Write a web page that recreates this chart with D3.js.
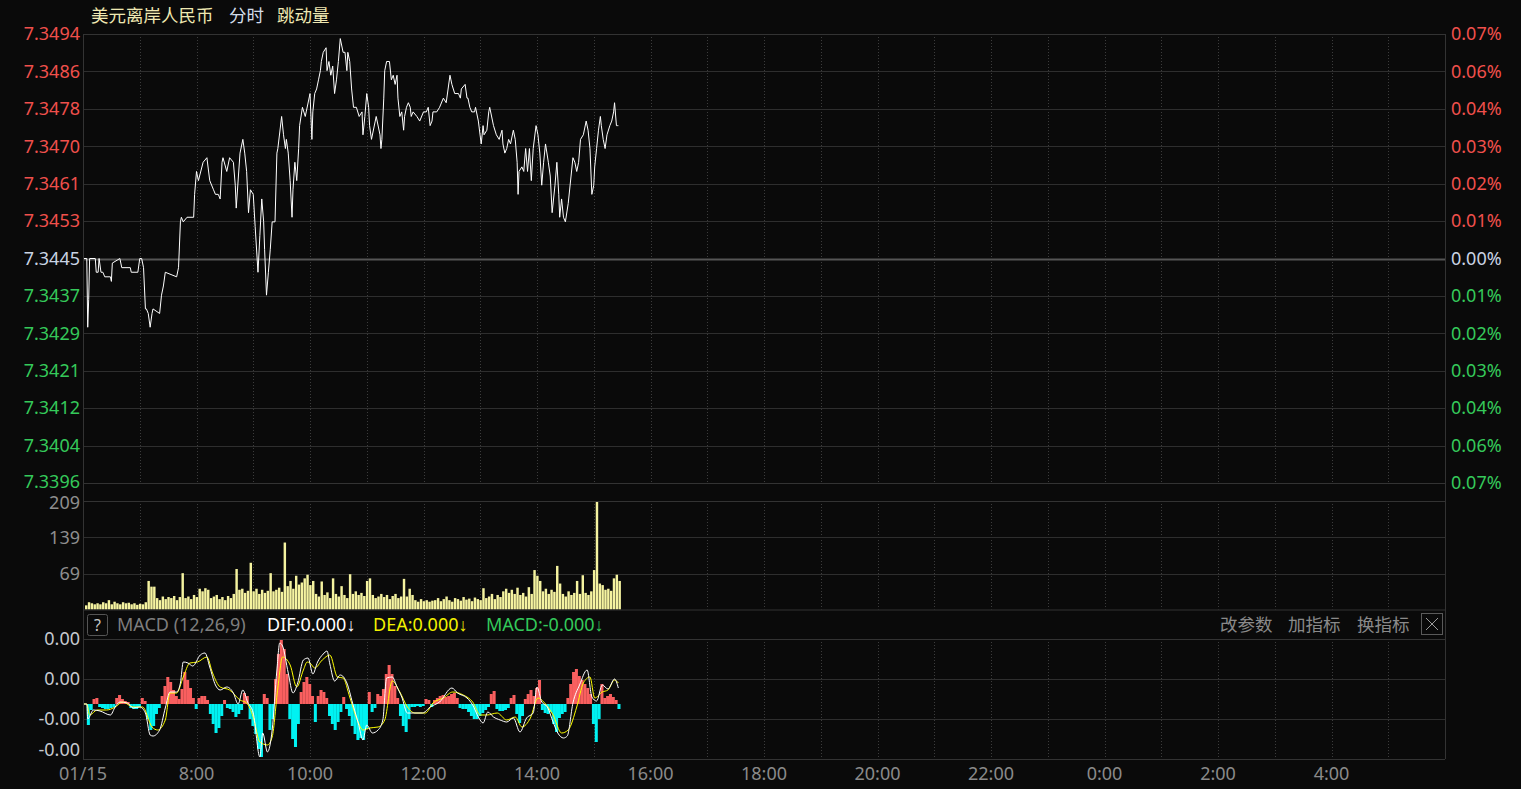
<!DOCTYPE html>
<html><head><meta charset="utf-8">
<script src="https://cdn.jsdelivr.net/npm/d3@7"></script>
<style>
html,body{margin:0;padding:0;background:#0a0a0a;overflow:hidden}
svg{display:block}
</style></head><body><svg id="c" width="1521" height="789"></svg>
<script>
// ---------------- DATA ----------------
const titleParts = ["美元离岸人民币", "分时", "跳动量"];
const sessionStart = [2025, 0, 15, 6, 0];       // 01/15 06:00
const sessionEnd   = [2025, 0, 16, 6, 0];
const basePrice = 7.3445;
const priceTickLabels = ["7.3494","7.3486","7.3478","7.3470","7.3461","7.3453","7.3445","7.3437","7.3429","7.3421","7.3412","7.3404","7.3396"];
const pctTickLabels   = ["0.07%","0.06%","0.04%","0.03%","0.02%","0.01%","0.00%","0.01%","0.02%","0.03%","0.04%","0.06%","0.07%"];
const timeTickLabels  = ["01/15","8:00","10:00","12:00","14:00","16:00","18:00","20:00","22:00","0:00","2:00","4:00"];
const volTickValues   = [209, 139, 69];
const macdTickValues  = [65, 25, -15, -55];            // ×1e-5
const macdTickLabels  = ["0.00", "0.00", "-0.00", "-0.00"];
const macdHeader = ["MACD (12,26,9)", "DIF:0.000↓", "DEA:0.000↓", "MACD:-0.000↓"];
const macdButtons = ["改参数", "加指标", "换指标"];

// price: [minutes after 06:00, price]
const priceSeries = [[0,7.3445],[4,7.3445],[5,7.3430],[6,7.3436],[7,7.3445],[13,7.3445],[14,7.3442],[16,7.3442],[17,7.3445],[19,7.3442],[21,7.3442],[23,7.3441],[29,7.3441],[30,7.3440],[31,7.3444],[39,7.3445],[41,7.3443],[50,7.3443],[51,7.3442],[58,7.3442],[60,7.3445],[62,7.3445],[64,7.3443],[66,7.3434],[67,7.3434],[69,7.3433],[71,7.3430],[73,7.3433],[74,7.3434],[81,7.3433],[83,7.3437],[85,7.3439],[87,7.3442],[99,7.3441],[101,7.3443],[103,7.3453],[104,7.3454],[106,7.3453],[110,7.3454],[117,7.3454],[118,7.3459],[120,7.3464],[122,7.3462],[127,7.3466],[131,7.3467],[134,7.3462],[138,7.3460],[140,7.3459],[143,7.3459],[145,7.3458],[147,7.3466],[148,7.3467],[152,7.3464],[155,7.3467],[159,7.3466],[161,7.3461],[162,7.3456],[166,7.3468],[169,7.3471],[171,7.3468],[173,7.3464],[175,7.3455],[177,7.3460],[180,7.3459],[182,7.3452],[185,7.3442],[187,7.3450],[189,7.3458],[191,7.3453],[192,7.3447],[194,7.3437],[196,7.3442],[198,7.3447],[200,7.3453],[203,7.3453],[205,7.3468],[206,7.3469],[210,7.3476],[212,7.3472],[214,7.3469],[215,7.3471],[217,7.3468],[219,7.3462],[221,7.3454],[222,7.3460],[224,7.3466],[226,7.3462],[228,7.3469],[229,7.3474],[232,7.3478],[235,7.3476],[236,7.3477],[240,7.3481],[242,7.3471],[243,7.3477],[245,7.3481],[247,7.3482],[249,7.3484],[251,7.3486],[252,7.3488],[254,7.3490],[257,7.3491],[258,7.3486],[260,7.3488],[262,7.3485],[264,7.3487],[266,7.3481],[268,7.3484],[270,7.3488],[272,7.3493],[275,7.3490],[277,7.3490],[279,7.3486],[280,7.3490],[282,7.3488],[284,7.3482],[286,7.3478],[289,7.3478],[292,7.3476],[295,7.3477],[296,7.3472],[298,7.3476],[300,7.3481],[302,7.3478],[303,7.3474],[305,7.3471],[309,7.3475],[310,7.3476],[314,7.3472],[315,7.3469],[316,7.3471],[318,7.3480],[319,7.3486],[321,7.3488],[324,7.3488],[326,7.3484],[328,7.3485],[330,7.3483],[332,7.3485],[333,7.3480],[335,7.3476],[337,7.3477],[339,7.3473],[340,7.3476],[342,7.3478],[344,7.3479],[346,7.3478],[347,7.3476],[349,7.3477],[353,7.3476],[356,7.3475],[360,7.3477],[363,7.3477],[365,7.3478],[367,7.3474],[369,7.3475],[370,7.3477],[374,7.3477],[377,7.3478],[381,7.3480],[384,7.3479],[388,7.3485],[390,7.3483],[393,7.3481],[397,7.3481],[399,7.3480],[400,7.3482],[404,7.3483],[406,7.3480],[407,7.3480],[409,7.3478],[411,7.3477],[414,7.3477],[415,7.3478],[418,7.3475],[421,7.3470],[423,7.3474],[424,7.3472],[427,7.3473],[429,7.3477],[430,7.3478],[434,7.3474],[437,7.3472],[440,7.3471],[443,7.3473],[444,7.3470],[446,7.3468],[448,7.3469],[450,7.3471],[452,7.3470],[455,7.3473],[457,7.3471],[459,7.3466],[460,7.3459],[461,7.3464],[464,7.3465],[466,7.3464],[468,7.3469],[470,7.3464],[472,7.3469],[474,7.3462],[476,7.3469],[479,7.3474],[481,7.3472],[483,7.3468],[485,7.3461],[487,7.3466],[489,7.3470],[492,7.3466],[494,7.3463],[496,7.3455],[499,7.3461],[501,7.3466],[503,7.3459],[504,7.3454],[506,7.3458],[508,7.3454],[510,7.3453],[513,7.3457],[516,7.3463],[518,7.3467],[520,7.3466],[522,7.3464],[524,7.3466],[526,7.3471],[529,7.3472],[532,7.3475],[534,7.3473],[536,7.3469],[538,7.3459],[540,7.3461],[541,7.3465],[543,7.3469],[545,7.3473],[547,7.3476],[548,7.3474],[550,7.3471],[552,7.3469],[554,7.3472],[557,7.3474],[559,7.3475],[561,7.3477],[562,7.3479],[564,7.3474],[565,7.3474],[566,7.3474]];

// tick volume per 3-minute bin, starting 06:00
const volBinMinutes = 3;
const volumes = [8,14,12,10,12,10,14,12,18,10,15,12,10,14,12,13,10,12,9,11,
  10,14,55,44,44,22,18,25,20,24,22,26,18,24,70,22,25,20,28,24,
  40,35,41,38,22,25,28,20,24,18,26,22,30,78,38,40,32,36,90,35,
  40,30,38,32,36,70,35,38,42,34,129,45,55,40,65,48,52,60,67,47,
  55,30,25,54,28,33,22,60,30,25,45,28,22,68,30,35,28,32,26,55,
  60,28,22,25,30,24,28,20,26,30,22,25,59,25,40,28,18,15,20,16,
  18,15,17,18,22,16,20,25,18,15,22,20,17,24,19,21,16,23,20,18,
  41,22,25,30,20,28,24,35,40,32,38,30,42,28,32,25,43,30,76,65,
  55,35,40,30,38,34,84,50,30,25,35,28,32,55,30,66,32,28,35,76,
  209,50,47,38,40,36,60,67,55];

// MACD histogram per 3-minute bin (×1e-5)
const macdHist = [0,-21,-6,5,6,-3,-4,-5,-5,-4,-3,6,9,5,3,2,-4,-5,-5,-3,
  6,3,-15,-26,-22,-10,-4,8,18,27,22,14,8,5,15,32,24,16,6,-5,
  6,8,8,4,-10,-20,-29,-24,-12,4,-4,-5,-8,-13,-10,-6,11,8,-15,-22,
  -30,-45,-53,10,6,-26,-15,25,50,64,55,30,-15,-35,-43,-20,12,22,27,20,
  8,-18,8,14,12,6,-12,-20,-26,-18,-8,7,-5,-12,-22,-30,-36,-34,-36,-25,
  12,-8,-4,10,8,15,30,39,30,18,6,-12,-22,-28,-15,-3,-3,-2,-3,-2,
  5,4,-3,4,6,8,9,7,8,10,11,6,-4,-5,-5,-8,-12,-15,-15,-12,
  -9,-6,-3,10,13,-5,-7,-7,-6,-4,6,9,-10,-19,-12,5,10,14,8,16,
  24,-6,-9,-10,-8,-20,-28,-14,-10,-8,6,20,32,35,28,24,20,16,10,-20,
  -38,-15,20,6,8,10,7,4,-5];

// DIF / DEA: [minutes after 06:00, value ×1e-5]
const difSeries = [[0,0],[4,0],[5,-15],[11,-6],[18,-7],[29,-11],[34,-3],[39,2],[47,1],[53,-4],[60,-3],[66,-9],[71,-31],[74,-32],[81,-26],[87,-4],[92,12],[99,12],[103,21],[106,42],[111,41],[116,38],[124,49],[129,51],[134,37],[140,19],[145,14],[152,17],[159,11],[164,0],[169,14],[174,2],[180,-9],[187,-53],[190,-29],[195,-48],[200,-26],[205,34],[208,61],[211,58],[217,31],[222,11],[227,21],[233,44],[238,46],[243,30],[248,42],[254,50],[258,53],[261,40],[266,23],[272,29],[279,21],[285,1],[291,-19],[296,-36],[300,-21],[306,-29],[312,-26],[317,-16],[321,26],[327,27],[332,17],[337,7],[343,-9],[349,-9],[359,-9],[367,-3],[377,2],[390,16],[396,11],[406,6],[412,-1],[418,-13],[423,-19],[428,-8],[434,-13],[441,-16],[448,-18],[455,-14],[462,-28],[469,-14],[476,-9],[480,17],[485,2],[491,-3],[497,-18],[502,-29],[508,-34],[512,-32],[518,1],[525,19],[533,34],[538,7],[543,3],[549,19],[555,15],[562,25],[566,16]];
const deaSeries = [[0,0],[4,0],[7,-11],[15,-6],[25,-6],[34,-3],[42,2],[53,-3],[63,-3],[73,-23],[79,-26],[87,-16],[92,11],[99,11],[106,27],[113,41],[121,42],[131,47],[137,31],[145,17],[155,14],[166,4],[173,1],[180,-13],[187,-38],[195,-41],[200,-33],[206,16],[211,47],[219,39],[226,17],[233,34],[237,42],[240,41],[245,36],[253,44],[261,49],[269,27],[275,26],[282,7],[290,-16],[296,-26],[303,-24],[312,-23],[319,-16],[327,23],[335,12],[343,-3],[351,-9],[362,-9],[370,1],[381,6],[391,12],[402,9],[412,2],[420,-11],[427,-11],[438,-9],[448,-16],[457,-13],[464,-23],[473,-14],[481,6],[489,0],[497,-11],[506,-29],[513,-26],[522,-3],[529,21],[536,27],[541,6],[549,12],[555,14],[562,24],[566,21]];

// ---------------- LAYOUT ----------------
const L = 83, R = 1445;
const mainTop = 34, mainBot = 483;
const volTop = 501, volBot = 609.5;
const hdrTop = 610, macdTop = 639, macdBot = 759;
const gridCol = "#2e2e2e", borderCol = "#333333", dotCol = "#3c3c3c";
const NUM_FONT = "'Noto Sans','Open Sans',sans-serif";
const CJK_FONT = "'Noto Sans CJK SC','Noto Sans',sans-serif";

const svg = d3.select("#c");
const t0 = new Date(...sessionStart), t1 = new Date(...sessionEnd);
const toDate = m => d3.timeMinute.offset(t0, m);
const x = d3.scaleTime().domain([t0, t1]).range([L, R]);
const pHi = +priceTickLabels[0], pLo = +priceTickLabels[priceTickLabels.length - 1];
const y = d3.scaleLinear().domain([pLo, pHi]).range([mainBot, mainTop]);
// price ticks are evenly spaced across the range; labels are their rounded values
const nT = priceTickLabels.length - 1;
const tickPos = (d, i) => y(pHi - (pHi - pLo) * i / nT);
const yv = d3.scaleLinear().domain([0, d3.max(volumes)]).range([volBot, volTop]);
const ym = d3.scaleLinear().domain([macdTickValues[3], macdTickValues[0]]).range([macdBot, macdTop]);

svg.append("rect").attr("width", 1521).attr("height", 789).attr("fill", "#0a0a0a");

// hourly dotted verticals
const hours = d3.timeHour.range(d3.timeHour.offset(t0, 1), t1);
[[mainTop, mainBot], [volTop, volBot], [macdTop, macdBot]].forEach(([a, b]) => {
  svg.append("g").selectAll("line").data(hours).join("line")
    .attr("x1", d => Math.round(x(d)) + 0.5).attr("x2", d => Math.round(x(d)) + 0.5)
    .attr("y1", a).attr("y2", b)
    .attr("stroke", dotCol).attr("stroke-dasharray", "1,2");
});

// main horizontal grid
svg.append("g").selectAll("line").data(priceTickLabels).join("line")
  .attr("x1", L).attr("x2", R)
  .attr("y1", (d, i) => Math.round(tickPos(d, i)) + 0.5).attr("y2", (d, i) => Math.round(tickPos(d, i)) + 0.5)
  .attr("stroke", d => +d === basePrice ? "#555" : gridCol)
  .attr("stroke-width", d => +d === basePrice ? 2 : 1);

// price labels
const lastI = priceTickLabels.length - 1;
svg.append("g").selectAll("text").data(priceTickLabels).join("text")
  .attr("x", 80).attr("y", (d, i) => tickPos(d, i) - (i === lastI ? 1.5 : 0)).attr("dy", "0.35em")
  .attr("text-anchor", "end").attr("font-family", NUM_FONT).attr("font-size", 18)
  .attr("fill", d => +d > basePrice ? "#f0504c" : (+d < basePrice ? "#35c95a" : "#c9d3e3"))
  .text(d => d);
svg.append("g").selectAll("text").data(pctTickLabels).join("text")
  .attr("x", 1451).attr("y", (d, i) => tickPos(d, i)).attr("dy", "0.35em")
  .attr("font-family", NUM_FONT).attr("font-size", 18)
  .attr("fill", (d, i) => i < 6 ? "#f0504c" : (i > 6 ? "#35c95a" : "#c9d3e3"))
  .text(d => d);

// price line
svg.append("path").datum(priceSeries)
  .attr("fill", "none").attr("stroke", "#ffffff").attr("stroke-width", 1)
  .attr("d", d3.line().x(d => x(toDate(d[0]))).y(d => y(d[1])));

// volume grid & labels
svg.append("g").selectAll("line").data(volTickValues).join("line")
  .attr("x1", L).attr("x2", R)
  .attr("y1", d => Math.round(yv(d)) + 0.5).attr("y2", d => Math.round(yv(d)) + 0.5)
  .attr("stroke", gridCol);
svg.append("g").selectAll("text").data(volTickValues).join("text")
  .attr("x", 80).attr("y", (d, i) => yv(d) + (i === 0 ? 2 : 0)).attr("dy", "0.35em")
  .attr("text-anchor", "end").attr("font-family", NUM_FONT).attr("font-size", 18)
  .attr("fill", "#8e8e8e").text(d => d);
const binW = x(toDate(volBinMinutes)) - x(t0);
svg.append("g").selectAll("rect").data(volumes).join("rect")
  .attr("x", (d, i) => x(toDate(i * volBinMinutes)) + 2)
  .attr("width", binW - 0.4)
  .attr("y", d => yv(d)).attr("height", d => volBot - yv(d))
  .attr("fill", "#f5f3a0");

// MACD grid & labels
svg.append("g").selectAll("line").data(macdTickValues).join("line")
  .attr("x1", L).attr("x2", R)
  .attr("y1", d => Math.round(ym(d)) + 0.5).attr("y2", d => Math.round(ym(d)) + 0.5)
  .attr("stroke", gridCol);
svg.append("g").selectAll("text").data(macdTickValues).join("text")
  .attr("x", 80).attr("y", d => Math.min(ym(d), macdBot - 9)).attr("dy", "0.35em")
  .attr("text-anchor", "end").attr("font-family", NUM_FONT).attr("font-size", 18)
  .attr("fill", "#c5c9cf").text((d, i) => macdTickLabels[i]);

svg.append("g").selectAll("rect").data(macdHist).join("rect")
  .attr("x", (d, i) => x(toDate(i * volBinMinutes)) + 1)
  .attr("width", binW + 0.2)
  .attr("y", d => d >= 0 ? ym(d) : ym(0))
  .attr("height", d => Math.abs(ym(d) - ym(0)))
  .attr("fill", d => d >= 0 ? "#f95f5f" : "#00f2f2");

const mline = d3.line().x(d => x(toDate(d[0]))).y(d => ym(d[1])).curve(d3.curveMonotoneX);
svg.append("path").datum(deaSeries).attr("fill", "none").attr("stroke", "#ffff00").attr("stroke-width", 1).attr("d", mline);
svg.append("path").datum(difSeries).attr("fill", "none").attr("stroke", "#ffffff").attr("stroke-width", 1).attr("d", mline);

// panel borders
const border = (x1, y1, x2, y2) => svg.append("line").attr("x1", x1).attr("y1", y1).attr("x2", x2).attr("y2", y2).attr("stroke", borderCol);
border(L + 0.5, mainTop, L + 0.5, macdBot);
border(R + 0.5, mainTop, R + 0.5, macdBot);
border(L, mainTop + 0.5, R, mainTop + 0.5);
border(L, mainBot + 0.5, R, mainBot + 0.5);
border(L, volTop + 0.5, R, volTop + 0.5);
border(L, volBot + 0.5, R, volBot + 0.5);
border(L, macdTop + 0.5, R, macdTop + 0.5);
border(L, macdBot + 0.5, R, macdBot + 0.5);

// time axis labels
const timeTicks = d3.timeHour.every(2).range(t0, t1);
svg.append("g").selectAll("text").data(timeTicks).join("text")
  .attr("x", d => x(d)).attr("y", 774).attr("dy", "0.35em")
  .attr("text-anchor", "middle").attr("font-family", NUM_FONT).attr("font-size", 18)
  .attr("fill", "#8a8a8a").text((d, i) => timeTickLabels[i]);

// title
const tpos = [91, 229, 277], tcol = ["#efe8b2", "#d3dde8", "#efe8b2"];
titleParts.forEach((s, i) => svg.append("text").attr("x", tpos[i]).attr("y", 16).attr("dy", "0.35em")
  .attr("font-family", CJK_FONT).attr("font-size", 17.5).attr("fill", tcol[i]).text(s));

// MACD header
svg.append("rect").attr("x", 87.5).attr("y", 614.5).attr("width", 20).attr("height", 21)
  .attr("fill", "none").attr("stroke", "#555").attr("rx", 2);
svg.append("text").attr("x", 97.5).attr("y", 625).attr("dy", "0.35em").attr("text-anchor", "middle")
  .attr("font-family", NUM_FONT).attr("font-size", 16).attr("fill", "#c8c8c8").text("?");
const hpos = [117, 267, 373, 486], hcol = ["#7e7e7e", "#ffffff", "#f2f200", "#33c95a"];
macdHeader.forEach((s, i) => svg.append("text").attr("x", hpos[i]).attr("y", 625).attr("dy", "0.35em")
  .attr("font-family", NUM_FONT).attr("font-size", 18).attr("fill", hcol[i]).text(s));
const bpos = [1220, 1288, 1357];
macdButtons.forEach((s, i) => svg.append("text").attr("x", bpos[i]).attr("y", 625).attr("dy", "0.35em")
  .attr("font-family", CJK_FONT).attr("font-size", 17.5).attr("fill", "#8a8a8a").text(s));
svg.append("rect").attr("x", 1421.5).attr("y", 613.5).attr("width", 21).attr("height", 21)
  .attr("fill", "none").attr("stroke", "#5a5a5a");
svg.append("path").attr("d", "M1426,618L1438,630M1438,618L1426,630").attr("stroke", "#9a9a9a").attr("stroke-width", 1);
</script></body></html>
